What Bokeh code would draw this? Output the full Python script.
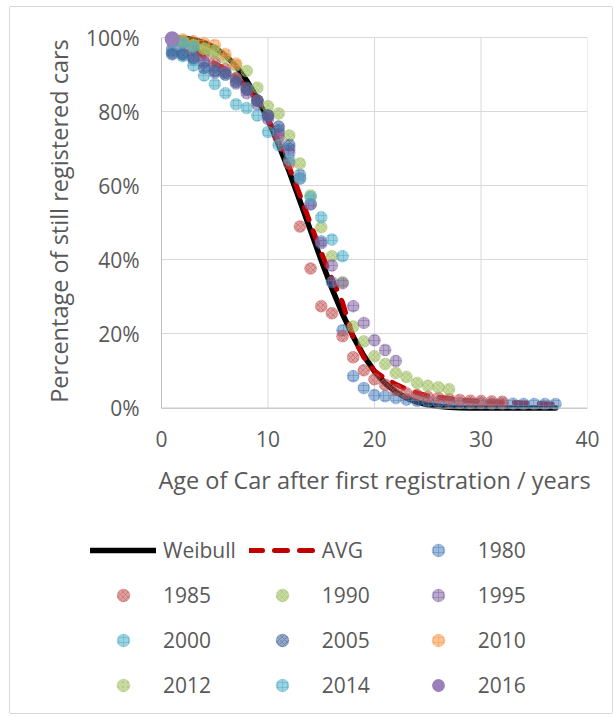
from bokeh.plotting import figure
from bokeh.models import (Range1d, FixedTicker, NumeralTickFormatter, Span,
                          Legend, LegendItem)
from bokeh.embed import file_html
from bokeh.resources import INLINE

# ---------------- data ----------------
x_ticks = [0, 10, 20, 30, 40]
y_ticks = [0, 0.2, 0.4, 0.6, 0.8, 1.0]

weibull_age = list(range(1, 38))
weibull = [0.9998, 0.9985, 0.9947, 0.9867, 0.973, 0.952, 0.923, 0.884, 0.836, 0.778,
           0.711, 0.638, 0.559, 0.479, 0.399, 0.323, 0.254, 0.193, 0.141, 0.099,
           0.067, 0.044, 0.027, 0.016, 0.009, 0.005, 0.0024, 0.0011, 0.0005, 0.0002,
           0.0001, 0.0, 0.0, 0.0, 0.0, 0.0, 0.0]

avg_age = list(range(1, 38))
avg = [1.0, 0.995, 0.975, 0.948, 0.93, 0.915, 0.893, 0.865, 0.83, 0.78,
       0.72, 0.65, 0.575, 0.497, 0.42, 0.35, 0.285, 0.19, 0.137, 0.10,
       0.08, 0.064, 0.051, 0.041, 0.033, 0.029, 0.026, 0.022, 0.02, 0.018,
       0.017, 0.016, 0.015, 0.014, 0.013, 0.012, 0.011]

years = ["1980", "1985", "1990", "1995", "2000", "2005", "2010", "2012", "2014", "2016"]

s1980 = [0.96, 0.96, 0.95, 0.93, 0.92, 0.905, 0.89, 0.865, 0.83, 0.79,
         0.75, 0.70, 0.63, 0.55, 0.45, 0.34, 0.21, 0.086, 0.054, 0.035,
         0.032, 0.027, 0.023, 0.02, 0.018, 0.016, 0.015, 0.014, 0.013, 0.013,
         0.012, 0.012, 0.012, 0.011, 0.011, 0.011, 0.011]
s1985 = [0.99, 0.985, 0.97, 0.955, 0.935, 0.915, 0.89, 0.86, 0.83, 0.79,
         0.73, 0.66, 0.49, 0.377, 0.275, 0.256, 0.194, 0.137, 0.102, 0.078,
         0.063, 0.049, 0.04, 0.035, 0.03, 0.027, 0.024, 0.022, 0.02, 0.019,
         0.018, 0.017]
s1990 = [0.995, 0.99, 0.98, 0.97, 0.96, 0.945, 0.925, 0.91, 0.865, 0.815,
         0.795, 0.736, 0.66, 0.574, 0.488, 0.41, 0.34, 0.22, 0.18, 0.14,
         0.119, 0.095, 0.084, 0.068, 0.06, 0.056, 0.051]
s1995 = [0.97, 0.955, 0.94, 0.935, 0.905, 0.905, 0.876, 0.85, 0.82, 0.78,
         0.74, 0.69, 0.62, 0.55, 0.445, 0.385, 0.337, 0.275, 0.23, 0.183,
         0.157, 0.127]
s2000 = [0.965, 0.95, 0.925, 0.898, 0.875, 0.85, 0.82, 0.81, 0.79, 0.745,
         0.71, 0.67, 0.62, 0.57, 0.515, 0.455, 0.41]
s2005 = [0.955, 0.955, 0.945, 0.918, 0.91, 0.90, 0.88, 0.86, 0.83, 0.79,
         0.76, 0.71]
s2010 = [0.998, 0.995, 0.99, 0.985, 0.98, 0.956, 0.93]
s2012 = [0.997, 0.99, 0.98, 0.97, 0.965]
s2014 = [0.995, 0.985, 0.975]
s2016 = [0.997]

series_values = [s1980, s1985, s1990, s1995, s2000, s2005, s2010, s2012, s2014, s2016]
series_colors = ["#4f81bd", "#c0504d", "#9bbb59", "#8064a2", "#4bacc6",
                 "#3d5f96", "#f79646", "#9bbb59", "#4bacc6", "#9a80b9"]
series_hatch = ["+", "x", "x", "+", "+", "x", "+", ".", "+", " "]

FONT = "Open Sans"
TXT = "#595959"
EDGE = "#d9d9d9"

weibull_style = dict(line_color="black", line_width=5.5, line_cap="round", line_join="round")
avg_style = dict(line_color="#c00000", line_width=5, line_dash="13 12",
                 line_cap="round", line_join="round")


def marker_style(yr, col, h):
    if yr == "2016":
        return dict(size=15, fill_color=col, fill_alpha=1.0, line_color=None)
    return dict(size=12, fill_color=col, fill_alpha=0.55, line_color=col,
                line_alpha=0.25, line_width=1, hatch_pattern=h, hatch_color=col,
                hatch_alpha=0.45, hatch_scale=5, hatch_weight=1)


# ---------------- main chart ----------------
p = figure(width=602, height=513, output_backend="svg", toolbar_location=None,
           x_range=Range1d(0, 40), y_range=Range1d(-0.02, 1.03),
           min_border_left=151, min_border_right=25, min_border_top=19,
           min_border_bottom=105)
p.margin = (7, 0, 0, 10)
p.styles = {"box-shadow": f"-1px 0 0 0 {EDGE}, 1px 0 0 0 {EDGE}, 0 -1px 0 0 {EDGE}"}
p.outline_line_color = None
p.background_fill_color = "white"
p.border_fill_color = "white"

p.xgrid.visible = False
p.ygrid.ticker = FixedTicker(ticks=y_ticks)
p.ygrid.grid_line_color = "#d9d9d9"
p.ygrid.grid_line_width = 1
p.segment(x0=x_ticks, y0=[0] * len(x_ticks), x1=x_ticks, y1=[1] * len(x_ticks),
          line_color="#d9d9d9", line_width=1)
p.add_layout(Span(location=0, dimension="width", line_color="#bfbfbf", line_width=1))

p.xaxis.ticker = FixedTicker(ticks=x_ticks)
p.yaxis.ticker = FixedTicker(ticks=y_ticks)
p.yaxis.formatter = NumeralTickFormatter(format="0%")
p.yaxis.bounds = (0, 1)
p.xaxis.axis_line_color = None
p.yaxis.axis_line_color = "#bfbfbf"
for ax in (p.xaxis, p.yaxis):
    ax.major_tick_line_color = None
    ax.minor_tick_line_color = None
    ax.major_tick_out = 0
    ax.major_label_text_font = FONT
    ax.major_label_text_font_size = "21px"
    ax.major_label_text_color = TXT
    ax.axis_label_text_font = FONT
    ax.axis_label_text_font_size = "23.5px"
    ax.axis_label_text_color = TXT
    ax.axis_label_text_font_style = "normal"
p.xaxis.major_label_standoff = 15
p.yaxis.major_label_standoff = 22
p.xaxis.axis_label = "Age of Car after first registration / years"
p.yaxis.axis_label = "Percentage of still registered cars"
p.xaxis.axis_label_standoff = 14
p.yaxis.axis_label_standoff = 8

p.line(weibull_age, weibull, **weibull_style)
p.line(avg_age, avg, **avg_style)
for yr, vals, col, h in zip(years, series_values, series_colors, series_hatch):
    ages = list(range(1, len(vals) + 1))
    p.scatter(ages, vals, **marker_style(yr, col, h))

# ---------------- legend panel (same series, hidden, only for the legend) ----------------
q = figure(width=602, height=193, output_backend="svg", toolbar_location=None,
           x_range=Range1d(0, 1), y_range=Range1d(0, 1),
           x_axis_type=None, y_axis_type=None,
           min_border_left=0, min_border_right=0, min_border_top=0, min_border_bottom=0)
q.margin = (0, 0, 0, 10)
q.styles = {"box-shadow": f"-1px 0 0 0 {EDGE}, 1px 0 0 0 {EDGE}, 0 1px 0 0 {EDGE}"}
q.outline_line_color = None
q.xgrid.visible = False
q.ygrid.visible = False
q.background_fill_color = "white"
q.border_fill_color = "white"

lw = q.line(weibull_age, weibull, visible=False, **weibull_style)
la = q.line(avg_age, avg, visible=False, **avg_style)
lr = []
for yr, vals, col, h in zip(years, series_values, series_colors, series_hatch):
    ages = list(range(1, len(vals) + 1))
    lr.append(q.scatter(ages, vals, visible=False, **marker_style(yr, col, h)))

items = [LegendItem(label="Weibull", renderers=[lw]),
         LegendItem(label="AVG", renderers=[la])]
items += [LegendItem(label=yr, renderers=[r]) for yr, r in zip(years, lr)]

legend = Legend(items=items, location=(80, 12), orientation="horizontal", ncols=3,
                glyph_width=66, glyph_height=32, label_standoff=7, label_width=70,
                spacing=13, padding=0, margin=0, border_line_color=None,
                background_fill_alpha=0, label_text_font=FONT,
                label_text_font_size="21px", label_text_color=TXT)
q.add_layout(legend)

open("out.html", "w").write(file_html([p, q], INLINE))
